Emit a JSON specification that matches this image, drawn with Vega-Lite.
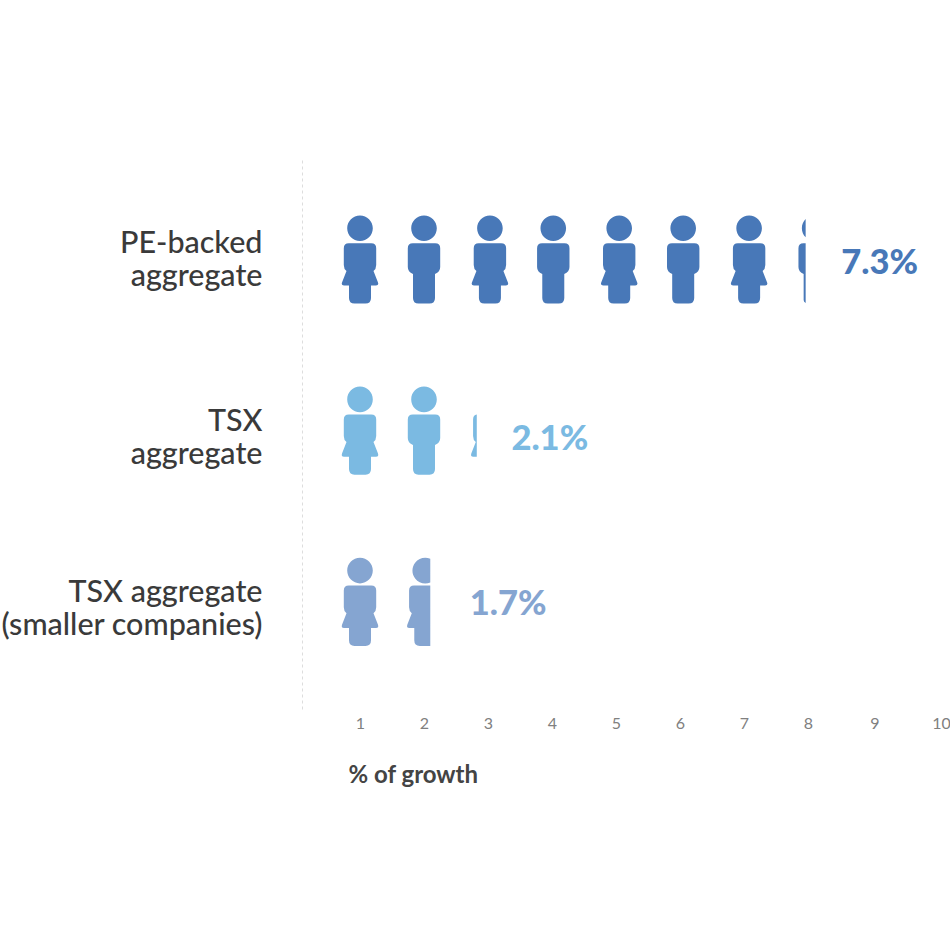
{
"$schema":"https://vega.github.io/schema/vega-lite/v6.json",
"autosize":{"type":"none"},
"padding":{"left":302,"top":160,"right":0,"bottom":239},
"width":648,"height":551,
"background":"white",
"config":{"view":{"stroke":null}},
"layer":[
{"data":{"values":[
{"series":"PE-backed aggregate","pos":1,"icon":"female"},
{"series":"PE-backed aggregate","pos":2,"icon":"male"},
{"series":"PE-backed aggregate","pos":3.03,"icon":"female"},
{"series":"PE-backed aggregate","pos":4.02,"icon":"male"},
{"series":"PE-backed aggregate","pos":5.05,"icon":"female"},
{"series":"PE-backed aggregate","pos":6.05,"icon":"male"},
{"series":"PE-backed aggregate","pos":7.08,"icon":"female"},
{"series":"PE-backed aggregate","pos":8.1,"icon":"male part"},
{"series":"TSX aggregate","pos":1,"icon":"female"},
{"series":"TSX aggregate","pos":2,"icon":"male"},
{"series":"TSX aggregate","pos":3.02,"icon":"female sliver"},
{"series":"TSX aggregate (smaller companies)","pos":1,"icon":"female"},
{"series":"TSX aggregate (smaller companies)","pos":2.02,"icon":"female part"}
]},
"mark":{"type":"point","filled":true,"size":4,"opacity":1,"strokeWidth":0},
"encoding":{
"x":{"field":"pos","type":"quantitative","scale":{"domain":[1,8,10],"range":[58,506,639],"nice":false,"zero":false},
"axis":{"values":[1,2,3,4,5,6,7,8,9,10],"format":"d","domain":false,"ticks":false,"grid":false,"labelFont":"Lato","labelFontSize":16,"labelColor":"#808080","labelPadding":4,"labelFlush":false,"labelOverlap":false,"title":"% of growth","titleFont":"Lato","titleFontSize":24,"titleFontWeight":700,"titleColor":"#444444","titleAlign":"left","titleAnchor":"start","titleBaseline":"alphabetic","titleX":46,"titleY":71}},
"y":{"field":"series","type":"nominal","scale":{"type":"point","domain":["PE-backed aggregate","TSX aggregate","TSX aggregate (smaller companies)"],"padding":0.6092,"align":0.479},
"axis":{"title":null,"ticks":false,"grid":false,"domain":true,"domainColor":"#dddddd","domainWidth":1,"domainDash":[3,3],"labelFont":"Lato","labelFontSize":30.5,"labelFontWeight":500,"labelColor":"#3a3a3a","labelPadding":40,"labelLineHeight":32.5,"labelLimit":400,"labelBaseline":"middle",
"labelOffset":{"condition":{"test":"datum.value=='PE-backed aggregate'","value":-16},"value":-9.5},
"labelExpr":"datum.value=='PE-backed aggregate'?['PE-backed','aggregate']:datum.value=='TSX aggregate'?['TSX','aggregate']:['TSX aggregate','(smaller companies)']"}},
"color":{"field":"series","type":"nominal","legend":null,"scale":{"domain":["PE-backed aggregate","TSX aggregate","TSX aggregate (smaller companies)"],"range":["#4878b8","#7bbae2","#85a5d1"]}},
"shape":{"field":"icon","type":"nominal","legend":null,"scale":{"domain":["female","male","male part","female sliver","female part"],"range":[
"M -12.8 -31.7 A 12.8 12.8 0 1 1 12.8 -31.7 A 12.8 12.8 0 1 1 -12.8 -31.7 Z M -11.2 -16.7 L 11.2 -16.7 Q 16.2 -16.7 16.2 -11.7 L 16.2 5 Q 16.2 9 13.5 11 L 18 22.5 Q 19 25.7 16 25.7 L 11 25.7 L 11 38 Q 11 43.7 5.5 43.7 L -5.5 43.7 Q -11 43.7 -11 38 L -11 25.7 L -16 25.7 Q -19 25.7 -18 22.5 L -13.5 11 Q -16.2 9 -16.2 5 L -16.2 -11.7 Q -16.2 -16.7 -11.2 -16.7 Z",
"M -12.8 -31.7 A 12.8 12.8 0 1 1 12.8 -31.7 A 12.8 12.8 0 1 1 -12.8 -31.7 Z M -11.2 -16.7 L 11.2 -16.7 Q 16.2 -16.7 16.2 -11.7 L 16.2 7 Q 16.2 12 11 14 L 11 38 Q 11 43.7 5.5 43.7 L -5.5 43.7 Q -11 43.7 -11 38 L -11 14 Q -16.2 12 -16.2 7 L -16.2 -11.7 Q -16.2 -16.7 -11.2 -16.7 Z",
"M -9 -40.8 A 12.8 12.8 0 0 0 -9 -22.6 Z M -9 -16.7 L -11.2 -16.7 Q -16.2 -16.7 -16.2 -11.7 L -16.2 7 Q -16.2 12 -11 14 L -11 40 Q -11 42 -9 43 Z",
"M -12.5 -16.6 Q -16.2 -16.2 -16.2 -11.7 L -16.2 5 Q -16.2 9 -13.5 11 L -18 22.5 Q -19 25.7 -16 25.7 L -12.5 25.7 Z",
"M 5 -43.48 A 12.8 12.8 0 1 0 5 -19.92 Z M 5 -16.7 L -11.2 -16.7 Q -16.2 -16.7 -16.2 -11.7 L -16.2 5 Q -16.2 9 -13.5 11 L -18 22.5 Q -19 25.7 -16 25.7 L -11 25.7 L -11 38 Q -11 43.7 -5.5 43.7 L 5 43.7 Z"
]}}
}},
{"data":{"values":[
{"series":"PE-backed aggregate","value":7.3,"label":"7.3%"},
{"series":"TSX aggregate","value":2.1,"label":"2.1%"},
{"series":"TSX aggregate (smaller companies)","value":1.7,"label":"1.7%"}
]},
"mark":{"type":"text","font":"Lato","fontWeight":900,"fontSize":34.5,"align":"left","baseline":"middle",
"dx":{"expr":"datum.value>7?78:datum.value>2?81:65"},
"dy":{"expr":"datum.value>7?4:datum.value>2?9:3"}},
"encoding":{
"x":{"field":"value","type":"quantitative"},
"y":{"field":"series","type":"nominal"},
"text":{"field":"label"},
"color":{"field":"series","type":"nominal","legend":null}
}}
]
}
